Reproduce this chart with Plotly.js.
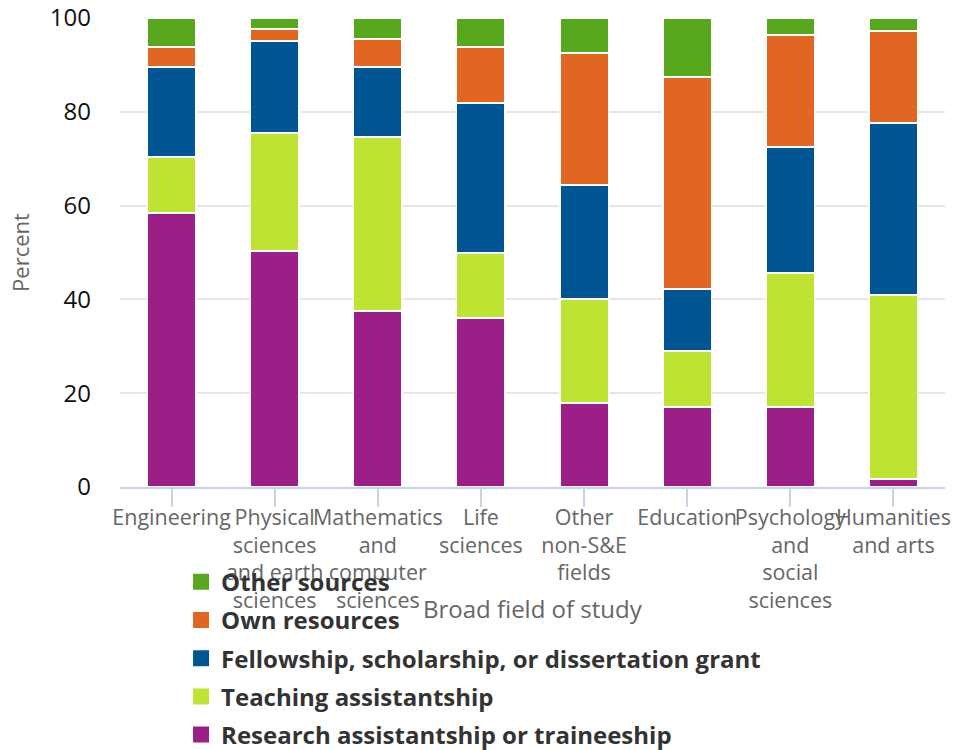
<!DOCTYPE html>
<html>
<head>
<meta charset="utf-8">
<script src="https://cdn.plot.ly/plotly-3.0.1.min.js"></script>
<style>html,body{margin:0;padding:0;background:#fff}#chart{width:955px;height:750px}</style>
</head>
<body>
<div id="chart"></div>
<script>
const categories = ["Engineering", "Physical<br>sciences<br>and earth<br>sciences", "Mathematics<br>and<br>computer<br>sciences", "Life<br>sciences", "Other<br>non-S&E<br>fields", "Education", "Psychology<br>and<br>social<br>sciences", "Humanities<br>and arts"];
const research = [58.4, 50.3, 37.5, 36.0, 17.9, 17.1, 17.1, 1.7];
const teaching = [12.0, 25.2, 37.1, 13.9, 22.2, 11.9, 28.5, 39.2];
const fellowship = [19.2, 19.6, 15.0, 32.0, 24.3, 13.2, 26.9, 36.7];
const ownResources = [4.2, 2.6, 5.9, 11.9, 28.1, 45.2, 23.9, 19.6];
const otherSources = [6.2, 2.3, 4.5, 6.2, 7.5, 12.6, 3.6, 2.8];
const seriesNames = ["Research assistantship or traineeship", "Teaching assistantship", "Fellowship, scholarship, or dissertation grant", "Own resources", "Other sources"];
const yTicks = [0, 20, 40, 60, 80, 100];

const seriesValues = [research, teaching, fellowship, ownResources, otherSources];
const colors = ["#9c1f87", "#bfe332", "#005595", "#e06621", "#57a81c"];

const traces = seriesValues.map((vals, i) => ({
  type: "bar",
  name: seriesNames[i],
  legendgroup: "g" + i,
  showlegend: false,
  x: categories,
  y: vals,
  marker: {color: colors[i], line: {color: "#ffffff", width: 1.5}},
  hoverinfo: "y+name"
}));

// legend-only entries (larger square swatches), listed top to bottom
const legendEntries = seriesNames.map((name, i) => ({
  type: "scatter",
  mode: "markers",
  name: name,
  legendgroup: "g" + i,
  x: [null], y: [null],
  marker: {symbol: "square", size: 24, color: colors[i]},
  hoverinfo: "skip"
})).reverse();

const layout = {
  width: 955, height: 750,
  barmode: "stack",
  bargap: 0.53,
  paper_bgcolor: "#fff", plot_bgcolor: "#fff",
  margin: {l: 120, r: 10, t: 18, b: 263, autoexpand: false},
  font: {family: "Open Sans, sans-serif", size: 20, color: "#333"},
  xaxis: {
    tickfont: {size: 21.5, color: "#666"},
    tickangle: 0,
    showline: true, linecolor: "#c8d4e6", linewidth: 1.5,
    ticks: "outside", ticklen: 18, tickcolor: "#c8d4e6", tickwidth: 1.5,
    ticklabelstandoff: -8,
    automargin: false
  },
  yaxis: {
    range: [0, 100],
    tickvals: yTicks,
    tickfont: {size: 24, color: "#111"},
    gridcolor: "#e6e6e6", gridwidth: 1.5,
    zeroline: false,
    ticklabelstandoff: 28,
    title: {text: "Percent", font: {size: 22, color: "#666"}, standoff: 14},
    automargin: false
  },
  annotations: [{
    text: "Broad field of study",
    xref: "paper", yref: "paper",
    x: 0.5, y: -0.258, xanchor: "center", yanchor: "middle",
    showarrow: false,
    font: {size: 24, color: "#666"}
  }],
  legend: {
    orientation: "v",
    traceorder: "grouped",
    x: 0.074, xanchor: "left",
    y: -0.155, yanchor: "top",
    font: {size: 24, color: "#333", family: "Open Sans, sans-serif", weight: "bold"},
    tracegroupgap: 4,
    bgcolor: "rgba(0,0,0,0)"
  },
  showlegend: true
};

Plotly.newPlot("chart", traces.concat(legendEntries), layout, {displayModeBar: false});
</script>
</body>
</html>
